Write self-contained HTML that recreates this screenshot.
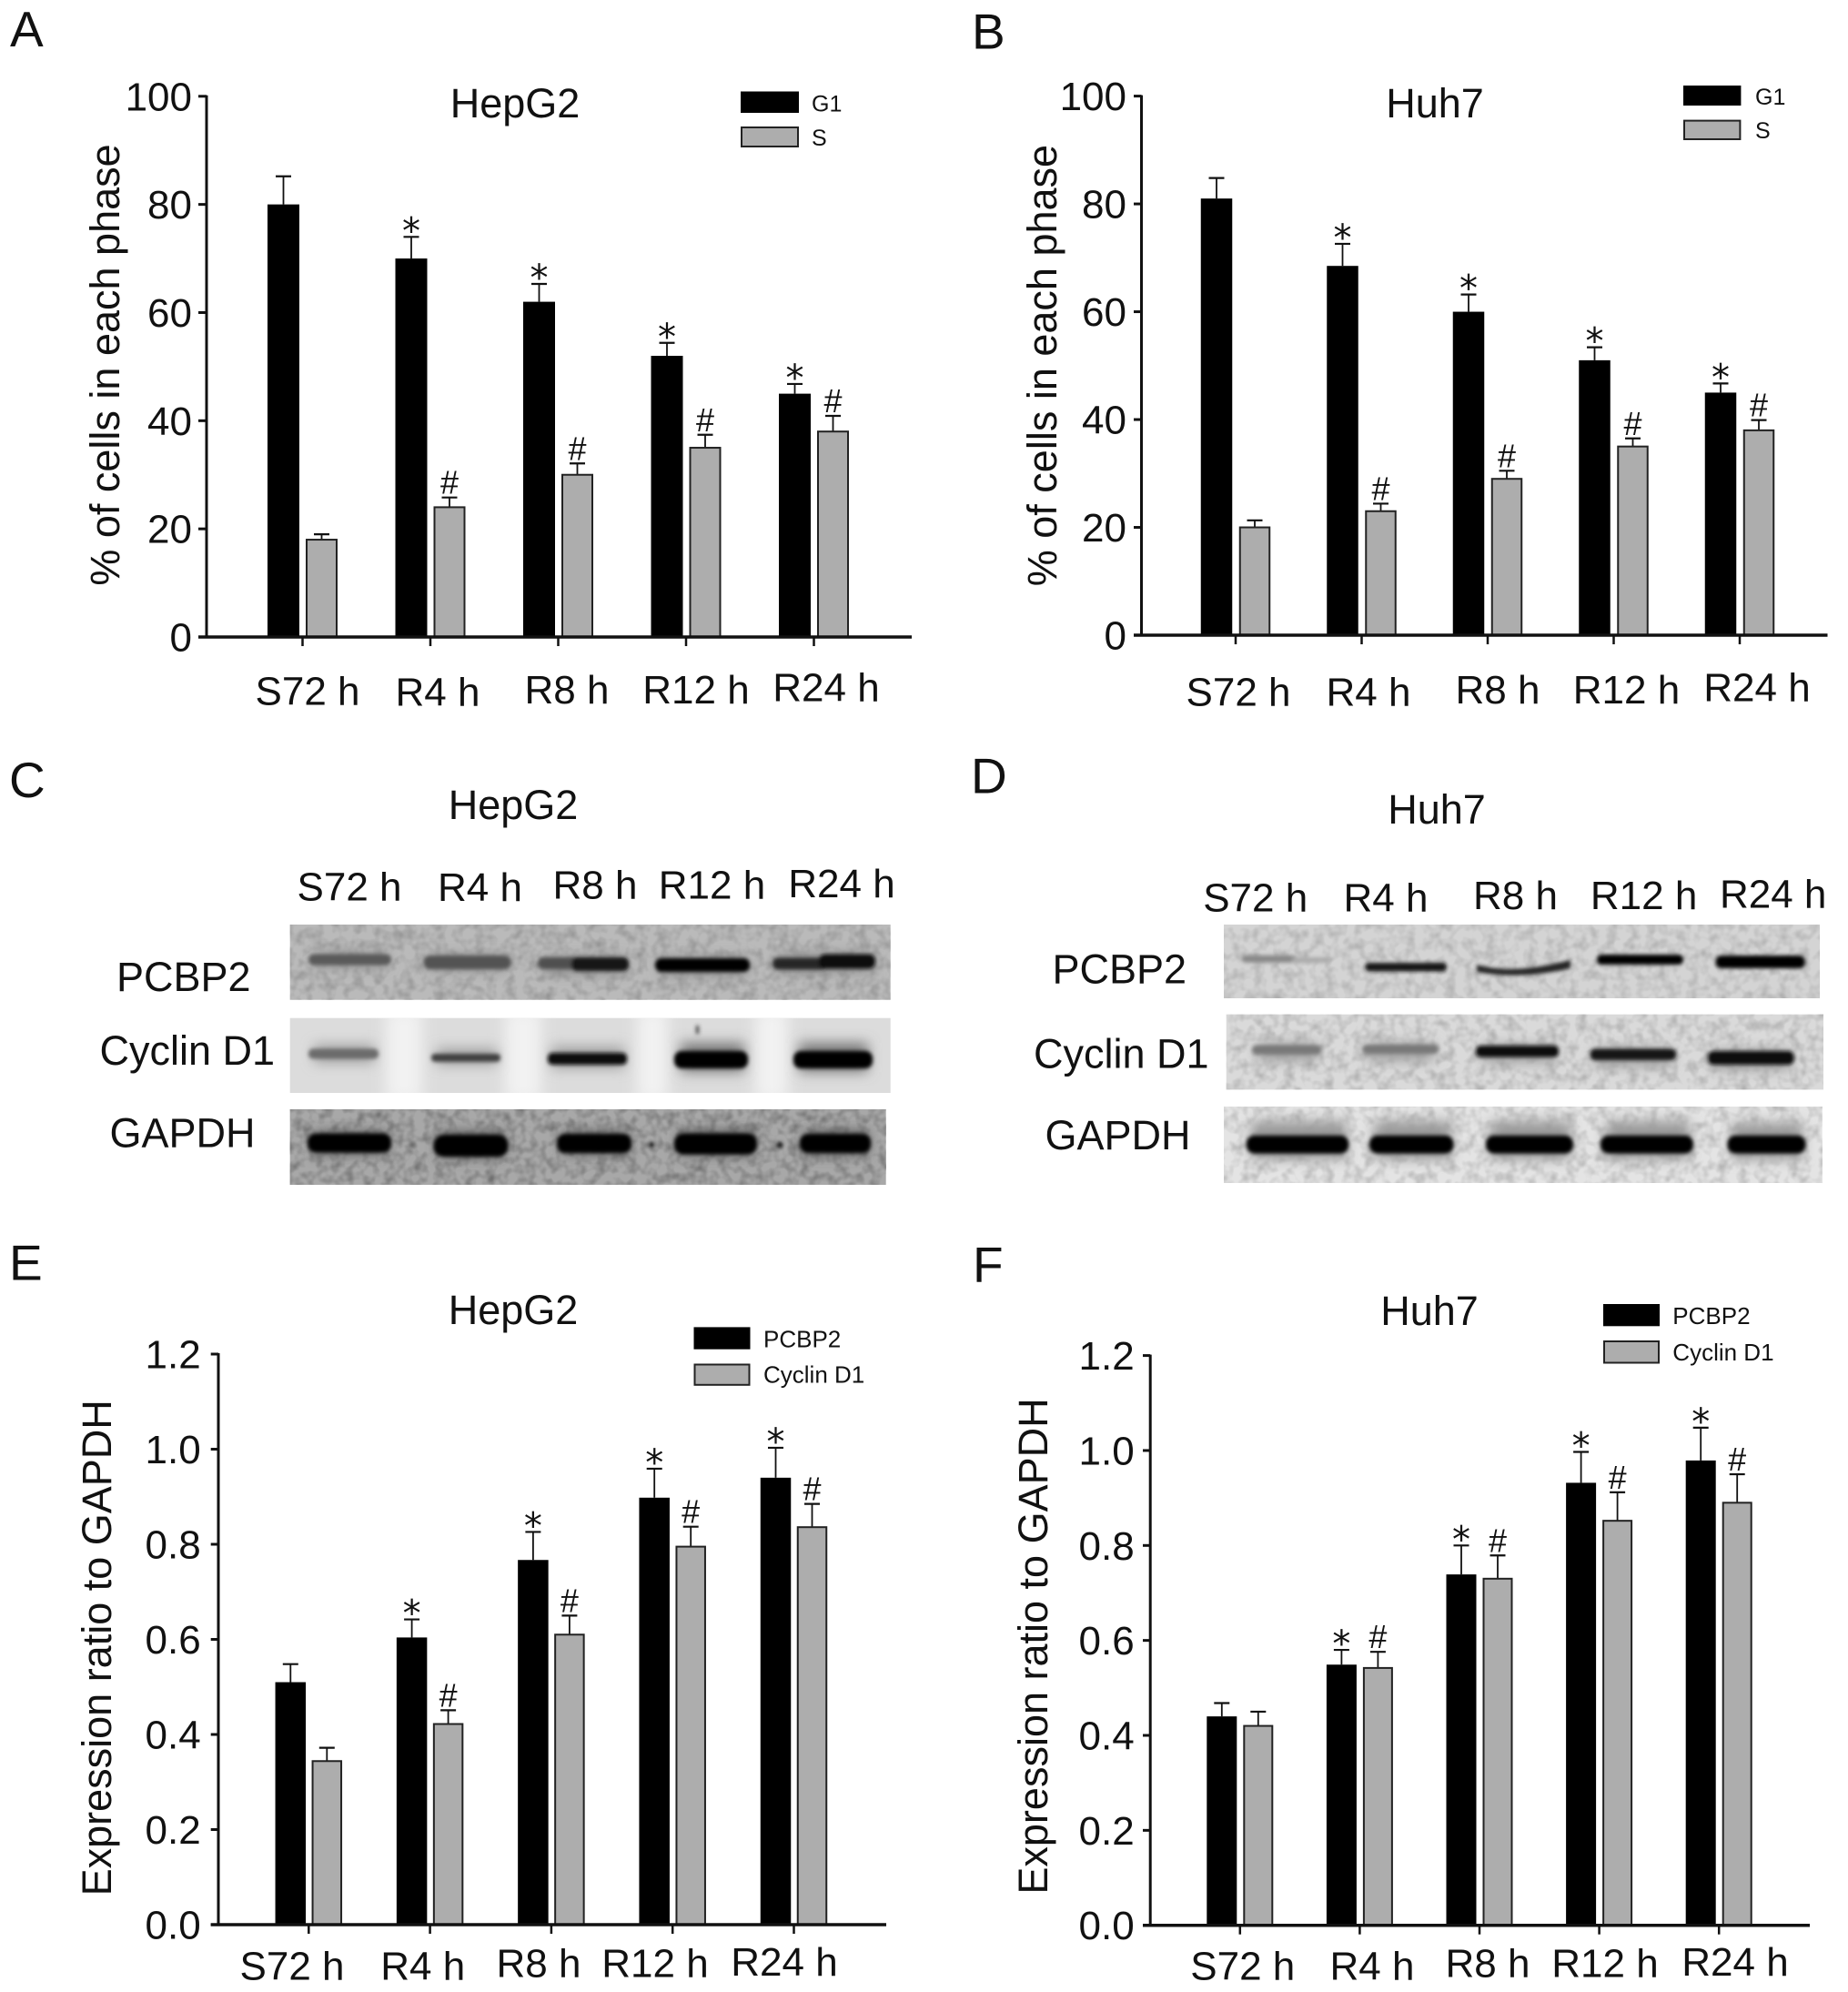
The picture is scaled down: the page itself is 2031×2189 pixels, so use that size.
<!DOCTYPE html>
<html lang="en">
<head>
<meta charset="utf-8">
<title>PCBP2 and Cyclin D1 expression in HepG2 and Huh7 cells</title>
<style>
html,body{margin:0;padding:0;background:#fff;}
svg{display:block;font-family:"Liberation Sans",Arial,sans-serif;fill:#111;}
.letter{font-size:55px;}
.title{font-size:45px;text-anchor:middle;}
.xl{font-size:44px;text-anchor:middle;}
.yt{font-size:45px;text-anchor:middle;}
.lg{font-size:25px;}
.bl{font-size:45px;}
</style>
</head>
<body>
<svg id="figure" xmlns="http://www.w3.org/2000/svg" width="2031" height="2189" viewBox="0 0 2031 2189">
<defs>
<filter id="b2" x="-30%" y="-80%" width="160%" height="260%"><feGaussianBlur stdDeviation="2.2"/></filter>
<filter id="b5" x="-30%" y="-100%" width="160%" height="300%"><feGaussianBlur stdDeviation="7"/></filter>
<filter id="b9" x="-50%" y="-20%" width="200%" height="140%"><feGaussianBlur stdDeviation="8"/></filter>
<filter id="grain" x="0" y="0" width="100%" height="100%">
<feTurbulence type="fractalNoise" baseFrequency="0.09" numOctaves="2" seed="4"/>
<feColorMatrix type="matrix" values="0 0 0 0 0.1  0 0 0 0 0.1  0 0 0 0 0.1  1.6 0 0 0 -0.62"/>
</filter>
<clipPath id="clip-c2"><rect x="318.7" y="1118.7" width="660" height="82.3"/></clipPath>
</defs>
<rect width="2031" height="2189" fill="#fff"/>

<text class="letter" x="11" y="51">A</text>
<text class="letter" x="1068" y="53.6">B</text>
<text class="letter" x="10" y="875.8">C</text>
<text class="letter" x="1067" y="871.6">D</text>
<text class="letter" x="10" y="1406.5">E</text>
<text class="letter" x="1069" y="1409">F</text>

<text class="title" x="566" y="129">HepG2</text>
<text class="title" x="1577" y="129">Huh7</text>
<text class="title" x="564" y="900">HepG2</text>
<text class="title" x="1579" y="905">Huh7</text>
<text class="title" x="564" y="1455">HepG2</text>
<text class="title" x="1571" y="1456">Huh7</text>

<text class="yt" transform="translate(131 401) rotate(-90)">% of cells in each phase</text>
<text class="yt" transform="translate(1161 401.6) rotate(-90)">% of cells in each phase</text>
<text class="yt" transform="translate(122 1810.8) rotate(-90)">Expression ratio to GAPDH</text>
<text class="yt" transform="translate(1151 1809) rotate(-90)">Expression ratio to GAPDH</text>

<g>
<text class="xl" x="338" y="774.5">S72 h</text><text class="xl" x="481" y="775.5">R4 h</text><text class="xl" x="623" y="773">R8 h</text><text class="xl" x="765" y="773">R12 h</text><text class="xl" x="908" y="770.5">R24 h</text>
</g>
<g>
<text class="xl" x="1361" y="775.5">S72 h</text><text class="xl" x="1504" y="775.5">R4 h</text><text class="xl" x="1646" y="773">R8 h</text><text class="xl" x="1787.5" y="773">R12 h</text><text class="xl" x="1931" y="770.5">R24 h</text>
</g>
<g>
<text class="xl" x="384" y="989.4">S72 h</text><text class="xl" x="527.5" y="990">R4 h</text><text class="xl" x="654" y="987.7">R8 h</text><text class="xl" x="782.5" y="987.7">R12 h</text><text class="xl" x="925" y="986">R24 h</text>
</g>
<g>
<text class="xl" x="1379.7" y="1001.4">S72 h</text><text class="xl" x="1523" y="1001.4">R4 h</text><text class="xl" x="1665.5" y="999">R8 h</text><text class="xl" x="1806.6" y="999">R12 h</text><text class="xl" x="1948.7" y="997.3">R24 h</text>
</g>
<g>
<text class="xl" x="321" y="2175.5">S72 h</text><text class="xl" x="464.7" y="2175.5">R4 h</text><text class="xl" x="592" y="2172.5">R8 h</text><text class="xl" x="720" y="2172.5">R12 h</text><text class="xl" x="862" y="2171">R24 h</text>
</g>
<g>
<text class="xl" x="1365.8" y="2175.5">S72 h</text><text class="xl" x="1508" y="2175.5">R4 h</text><text class="xl" x="1635" y="2172.5">R8 h</text><text class="xl" x="1764" y="2172.5">R12 h</text><text class="xl" x="1907" y="2171">R24 h</text>
</g>

<!-- Blot C -->
<text class="bl" x="128" y="1089">PCBP2</text>
<text class="bl" x="109.5" y="1170">Cyclin D1</text>
<text class="bl" x="120.5" y="1260.7">GAPDH</text>
<g>
<rect x="318.7" y="1016" width="660" height="82.7" fill="#bababa"/>
<rect x="318.7" y="1016" width="660" height="82.7" filter="url(#grain)" opacity="0.45"/>
<g filter="url(#b5)" fill="#8c8c8c">
<rect x="345" y="1048" width="80" height="14"/>
<rect x="472" y="1050" width="85" height="16"/>
<rect x="598" y="1052" width="90" height="18"/>
<rect x="726" y="1052" width="95" height="20"/>
<rect x="855" y="1048" width="105" height="20"/>
</g>
<g filter="url(#b2)">
<rect x="339" y="1048.5" width="91" height="12" rx="6" fill="#5a5a5a"/>
<rect x="465.5" y="1050" width="96" height="15" rx="7" fill="#525252"/>
<rect x="591" y="1052" width="45" height="13" rx="6" fill="#505050"/>
<rect x="628" y="1052" width="63" height="15" rx="6" fill="#141414"/>
<rect x="720" y="1053" width="104" height="15" rx="7" fill="#060606"/>
<rect x="849" y="1052.5" width="60" height="13" rx="6" fill="#252525"/>
<rect x="900" y="1048.5" width="62" height="16" rx="7" fill="#0a0a0a"/>
</g>
</g>
<g>
<rect x="318.7" y="1118.7" width="660" height="82.3" fill="#dcdcdc"/>
<g clip-path="url(#clip-c2)">
<g filter="url(#b9)" fill="#f2f2f2">
<rect x="424" y="1110" width="40" height="100"/>
<rect x="555" y="1110" width="40" height="100"/>
<rect x="700" y="1110" width="34" height="100"/>
<rect x="830" y="1110" width="36" height="100"/>
</g>
<g filter="url(#b5)" fill="#a0a0a0">
<rect x="345" y="1148" width="66" height="20"/>
<rect x="480" y="1152" width="66" height="18"/>
<rect x="606" y="1150" width="80" height="24"/>
</g>
<g filter="url(#b5)" fill="#777">
<rect x="748" y="1146" width="70" height="32"/>
<rect x="878" y="1146" width="76" height="32"/>
</g>
</g>
<g filter="url(#b2)">
<rect x="339" y="1152.5" width="77" height="11" rx="5" fill="#6c6c6c"/>
<rect x="474" y="1158" width="76" height="8.7" rx="4" fill="#404040"/>
<rect x="602" y="1157" width="87" height="13" rx="5" fill="#0e0e0e"/>
<rect x="741" y="1155" width="81" height="19" rx="8" fill="#000"/>
<rect x="872" y="1155" width="87" height="19" rx="8" fill="#000"/>
<rect x="765" y="1127" width="3" height="9" fill="#333"/>
</g>
</g>
<g>
<rect x="318.7" y="1219" width="655" height="83" fill="#a8a8a8"/>
<rect x="318.7" y="1219" width="655" height="83" filter="url(#grain)" opacity="0.8"/>
<g filter="url(#b5)" fill="#555">
<rect x="345" y="1244" width="80" height="24"/>
<rect x="482" y="1244" width="72" height="28"/>
<rect x="618" y="1244" width="72" height="24"/>
<rect x="746" y="1243" width="82" height="26"/>
<rect x="884" y="1243" width="70" height="26"/>
</g>
<g filter="url(#b2)" fill="#020202">
<rect x="338" y="1245.5" width="92" height="21" rx="9"/>
<rect x="476.5" y="1247" width="82" height="24" rx="11"/>
<rect x="612" y="1246" width="82" height="21" rx="9"/>
<rect x="741" y="1245.5" width="91" height="23" rx="10"/>
<rect x="879" y="1246" width="78" height="21" rx="9"/>
<circle cx="453" cy="1258" r="3" fill="#555"/>
<circle cx="588" cy="1258" r="3" fill="#777"/>
<circle cx="716" cy="1258" r="3"/>
<circle cx="857" cy="1258" r="3"/>
</g>
</g>

<!-- Blot D -->
<text class="bl" x="1156.5" y="1080.6">PCBP2</text>
<text class="bl" x="1136" y="1173.6">Cyclin D1</text>
<text class="bl" x="1148.5" y="1263">GAPDH</text>
<g>
<rect x="1345" y="1016" width="655" height="81" fill="#d4d4d4"/>
<rect x="1345" y="1016" width="655" height="81" filter="url(#grain)" opacity="0.35"/>
<g filter="url(#b2)">
<rect x="1364.5" y="1049.7" width="60" height="8" rx="4" fill="#888"/>
<rect x="1420" y="1052" width="42" height="6" rx="3" fill="#aaa"/>
<rect x="1500.4" y="1058" width="89.4" height="9.5" rx="4" fill="#151515"/>
<path d="M1623 1060 Q1660 1072 1726 1055 L1726 1064 Q1670 1077 1623 1068 Z" fill="#222"/>
<rect x="1755" y="1049" width="95" height="11" rx="5" fill="#060606"/>
<rect x="1885.6" y="1050" width="98" height="14" rx="6" fill="#060606"/>
</g>
</g>
<g>
<rect x="1347.7" y="1114.7" width="656.3" height="82.7" fill="#dadada"/>
<rect x="1347.7" y="1114.7" width="656.3" height="82.7" filter="url(#grain)" opacity="0.4"/>
<g filter="url(#b5)" fill="#a0a0a0">
<rect x="1382" y="1146" width="66" height="20"/>
<rect x="1502" y="1146" width="74" height="20"/>
<rect x="1628" y="1148" width="82" height="20"/>
<rect x="1752" y="1152" width="86" height="20"/>
<rect x="1882" y="1154" width="86" height="22"/>
</g>
<g filter="url(#b2)">
<rect x="1376" y="1148.5" width="76" height="10.3" rx="5" fill="#787878"/>
<rect x="1497" y="1148" width="84" height="10" rx="5" fill="#787878"/>
<rect x="1622" y="1149" width="91" height="12.6" rx="5" fill="#111"/>
<rect x="1747.7" y="1152.5" width="94.3" height="12.5" rx="5" fill="#151515"/>
<rect x="1877" y="1155" width="94.6" height="15" rx="6" fill="#111"/>
</g>
</g>
<g>
<rect x="1345" y="1216" width="657.7" height="84" fill="#e4e4e4"/>
<rect x="1345" y="1216" width="657.7" height="84" filter="url(#grain)" opacity="0.4"/>
<g filter="url(#b5)" fill="#999">
<rect x="1375" y="1232" width="105" height="42"/>
<rect x="1510" y="1232" width="85" height="42"/>
<rect x="1638" y="1232" width="88" height="42"/>
<rect x="1765" y="1232" width="92" height="42"/>
<rect x="1903" y="1234" width="78" height="40"/>
</g>
<g filter="url(#b2)" fill="#020202">
<rect x="1369.7" y="1247.7" width="112.6" height="19.9" rx="9"/>
<rect x="1505" y="1247.7" width="92.5" height="19.9" rx="9"/>
<rect x="1633" y="1247.7" width="96" height="19.9" rx="9"/>
<rect x="1759" y="1247.7" width="102" height="19.9" rx="9"/>
<rect x="1898.5" y="1247.7" width="86" height="19.9" rx="9"/>
</g>
</g>

<!-- Legends -->
<g>
<rect x="814" y="100.5" width="64" height="23.5" fill="#000"/>
<rect x="815" y="140" width="62" height="21" fill="#adadad" stroke="#222" stroke-width="2"/>
<text class="lg" x="892" y="122.5">G1</text>
<text class="lg" x="892" y="160">S</text>
</g>
<g>
<rect x="1850" y="94" width="63.4" height="22" fill="#000"/>
<rect x="1851" y="132.6" width="61.4" height="20.4" fill="#adadad" stroke="#222" stroke-width="2"/>
<text class="lg" x="1929" y="115">G1</text>
<text class="lg" x="1929" y="152">S</text>
</g>
<g>
<rect x="762.5" y="1458.4" width="62" height="24.3" fill="#000"/>
<rect x="763.5" y="1499.5" width="60" height="22.3" fill="#adadad" stroke="#222" stroke-width="2"/>
<text class="lg" x="839" y="1480.6" style="font-size:26px">PCBP2</text>
<text class="lg" x="839" y="1519.7" style="font-size:26px">Cyclin D1</text>
</g>
<g>
<rect x="1762" y="1433" width="62" height="24.3" fill="#000"/>
<rect x="1763" y="1474" width="60" height="23.5" fill="#adadad" stroke="#222" stroke-width="2"/>
<text class="lg" x="1838.3" y="1455" style="font-size:26px">PCBP2</text>
<text class="lg" x="1838.3" y="1494.8" style="font-size:26px">Cyclin D1</text>
</g>

<g id="panel-a"></g>
<g id="panel-b"></g>
<g id="panel-e"></g>
<g id="panel-f"></g>
</svg>

<script>
const categories = ['S72h', 'R4h', 'R8h', 'R12h', 'R24h'];
const phaseTickLabels = ['0', '20', '40', '60', '80', '100'];
const ratioTickLabels = ['0.0', '0.2', '0.4', '0.6', '0.8', '1.0', '1.2'];
const darkMarkers = ['', '*', '*', '*', '*'];
const lightMarkers = ['', '#', '#', '#', '#'];

const panelAG1 = [80, 70, 62, 52, 45];
const panelAG1Err = [5.2, 4, 3.3, 2.4, 1.8];
const panelAS = [18, 24, 30, 35, 38];
const panelASErr = [1, 1.8, 2.1, 2.4, 2.9];

const panelBG1 = [81, 68.5, 60, 51, 45];
const panelBG1Err = [3.8, 4.1, 3.2, 2.4, 1.7];
const panelBS = [20, 23, 29, 35, 38];
const panelBSErr = [1.3, 1.4, 1.5, 1.5, 1.9];

const panelEPcbp2 = [0.51, 0.604, 0.767, 0.898, 0.94];
const panelEPcbp2Err = [0.038, 0.038, 0.059, 0.061, 0.063];
const panelECyclin = [0.344, 0.422, 0.61, 0.795, 0.836];
const panelECyclinErr = [0.028, 0.029, 0.04, 0.042, 0.049];

const panelFPcbp2 = [0.44, 0.549, 0.739, 0.932, 0.979];
const panelFPcbp2Err = [0.028, 0.031, 0.061, 0.065, 0.069];
const panelFCyclin = [0.42, 0.542, 0.73, 0.852, 0.89];
const panelFCyclinErr = [0.03, 0.034, 0.049, 0.06, 0.06];

const SVG_NS = 'http://www.w3.org/2000/svg';

function mk(parent, tag, attrs, text) {
  const el = document.createElementNS(SVG_NS, tag);
  for (const k in attrs) el.setAttribute(k, attrs[k]);
  if (text !== undefined) el.textContent = text;
  parent.appendChild(el);
  return el;
}

function drawBar(root, x, yOf, base, value, err, width, dark, marker) {
  const top = yOf(value);
  const errTop = yOf(value + err);
  const errorLine = mk(root, 'line', {x1: x, x2: x, y1: top, y2: errTop, stroke: '#111', 'stroke-width': 1.8});
  
  
  const cap = mk(root, 'line', {x1: x - 8.5, x2: x + 8.5, y1: errTop, y2: errTop, stroke: '#111', 'stroke-width': 2.2});
  
  
  const bar = dark
    ? mk(root, 'rect', {x: x - width / 2, y: top, width: width, height: base - top, fill: '#000'})
    : mk(root, 'rect', {x: x - width / 2 + 1, y: top, width: width - 2, height: base - top, fill: '#adadad', stroke: '#222', 'stroke-width': 2});
  
  
  if (marker === '*') {
    const star = mk(root, 'text', {x: x, y: errTop + 7, 'font-size': 40, 'text-anchor': 'middle', style: 'font-family:"DejaVu Sans",sans-serif'}, marker);
    
    
  } else if (marker === '#') {
    const hash = mk(root, 'text', {x: x, y: errTop - 4, 'font-size': 36, 'text-anchor': 'middle'}, marker);
    
    
  }
}

function drawPanel(id, frame, tickLabels, maxValue, darkValues, darkErrs, lightValues, lightErrs) {
  const root = document.getElementById(id);
  const yOf = function (v) { return frame.base - (v / maxValue) * (frame.base - frame.top); };
  const xOf = function (i) { return frame.firstTick + i * frame.tickStep; };

  categories.forEach(function (name, i) {
    drawBar(root, xOf(i) - frame.offset, yOf, frame.base, darkValues[i], darkErrs[i], frame.barWidth, true, darkMarkers[i]);
    drawBar(root, xOf(i) + frame.offset, yOf, frame.base, lightValues[i], lightErrs[i], frame.barWidth, false, lightMarkers[i]);
    const xTick = mk(root, 'line', {x1: xOf(i), x2: xOf(i), y1: frame.base, y2: frame.base + 10, stroke: '#111', 'stroke-width': 2.5});
    
    
  });

  const yAxis = mk(root, 'line', {x1: frame.axisX, x2: frame.axisX, y1: frame.top - 1, y2: frame.base, stroke: '#111', 'stroke-width': 3});
  
  
  const xAxis = mk(root, 'line', {x1: frame.axisLeft, x2: frame.axisRight, y1: frame.base, y2: frame.base, stroke: '#111', 'stroke-width': 3.5});
  
  

  tickLabels.forEach(function (label) {
    const y = yOf(Number(label));
    const tick = mk(root, 'line', {x1: frame.axisLeft, x2: frame.axisX, y1: y, y2: y, stroke: '#111', 'stroke-width': 3});
    
    
    const tickText = mk(root, 'text', {x: frame.labelRight, y: y + 15.5, 'font-size': 44, 'text-anchor': 'end'}, label);
    
    
  });
}

drawPanel('panel-a',
  {axisX: 227, base: 700, top: 105.8, firstTick: 332.5, tickStep: 140.5, offset: 21, barWidth: 35, axisLeft: 218, axisRight: 1002, labelRight: 211},
  phaseTickLabels, 100, panelAG1, panelAG1Err, panelAS, panelASErr);
drawPanel('panel-b',
  {axisX: 1254.5, base: 698, top: 105.6, firstTick: 1358, tickStep: 138.5, offset: 21, barWidth: 34.5, axisLeft: 1246, axisRight: 2008.5, labelRight: 1238},
  phaseTickLabels, 100, panelBG1, panelBG1Err, panelBS, panelBSErr);
drawPanel('panel-e',
  {axisX: 240, base: 2115, top: 1488, firstTick: 339.3, tickStep: 133.3, offset: 20, barWidth: 33.5, axisLeft: 231.7, axisRight: 974, labelRight: 220.7},
  ratioTickLabels, 1.2, panelEPcbp2, panelEPcbp2Err, panelECyclin, panelECyclinErr);
drawPanel('panel-f',
  {axisX: 1264.2, base: 2115.7, top: 1489.6, firstTick: 1362.8, tickStep: 131.6, offset: 20, barWidth: 33, axisLeft: 1256, axisRight: 1989, labelRight: 1246.7},
  ratioTickLabels, 1.2, panelFPcbp2, panelFPcbp2Err, panelFCyclin, panelFCyclinErr);
</script>
</body>
</html>
